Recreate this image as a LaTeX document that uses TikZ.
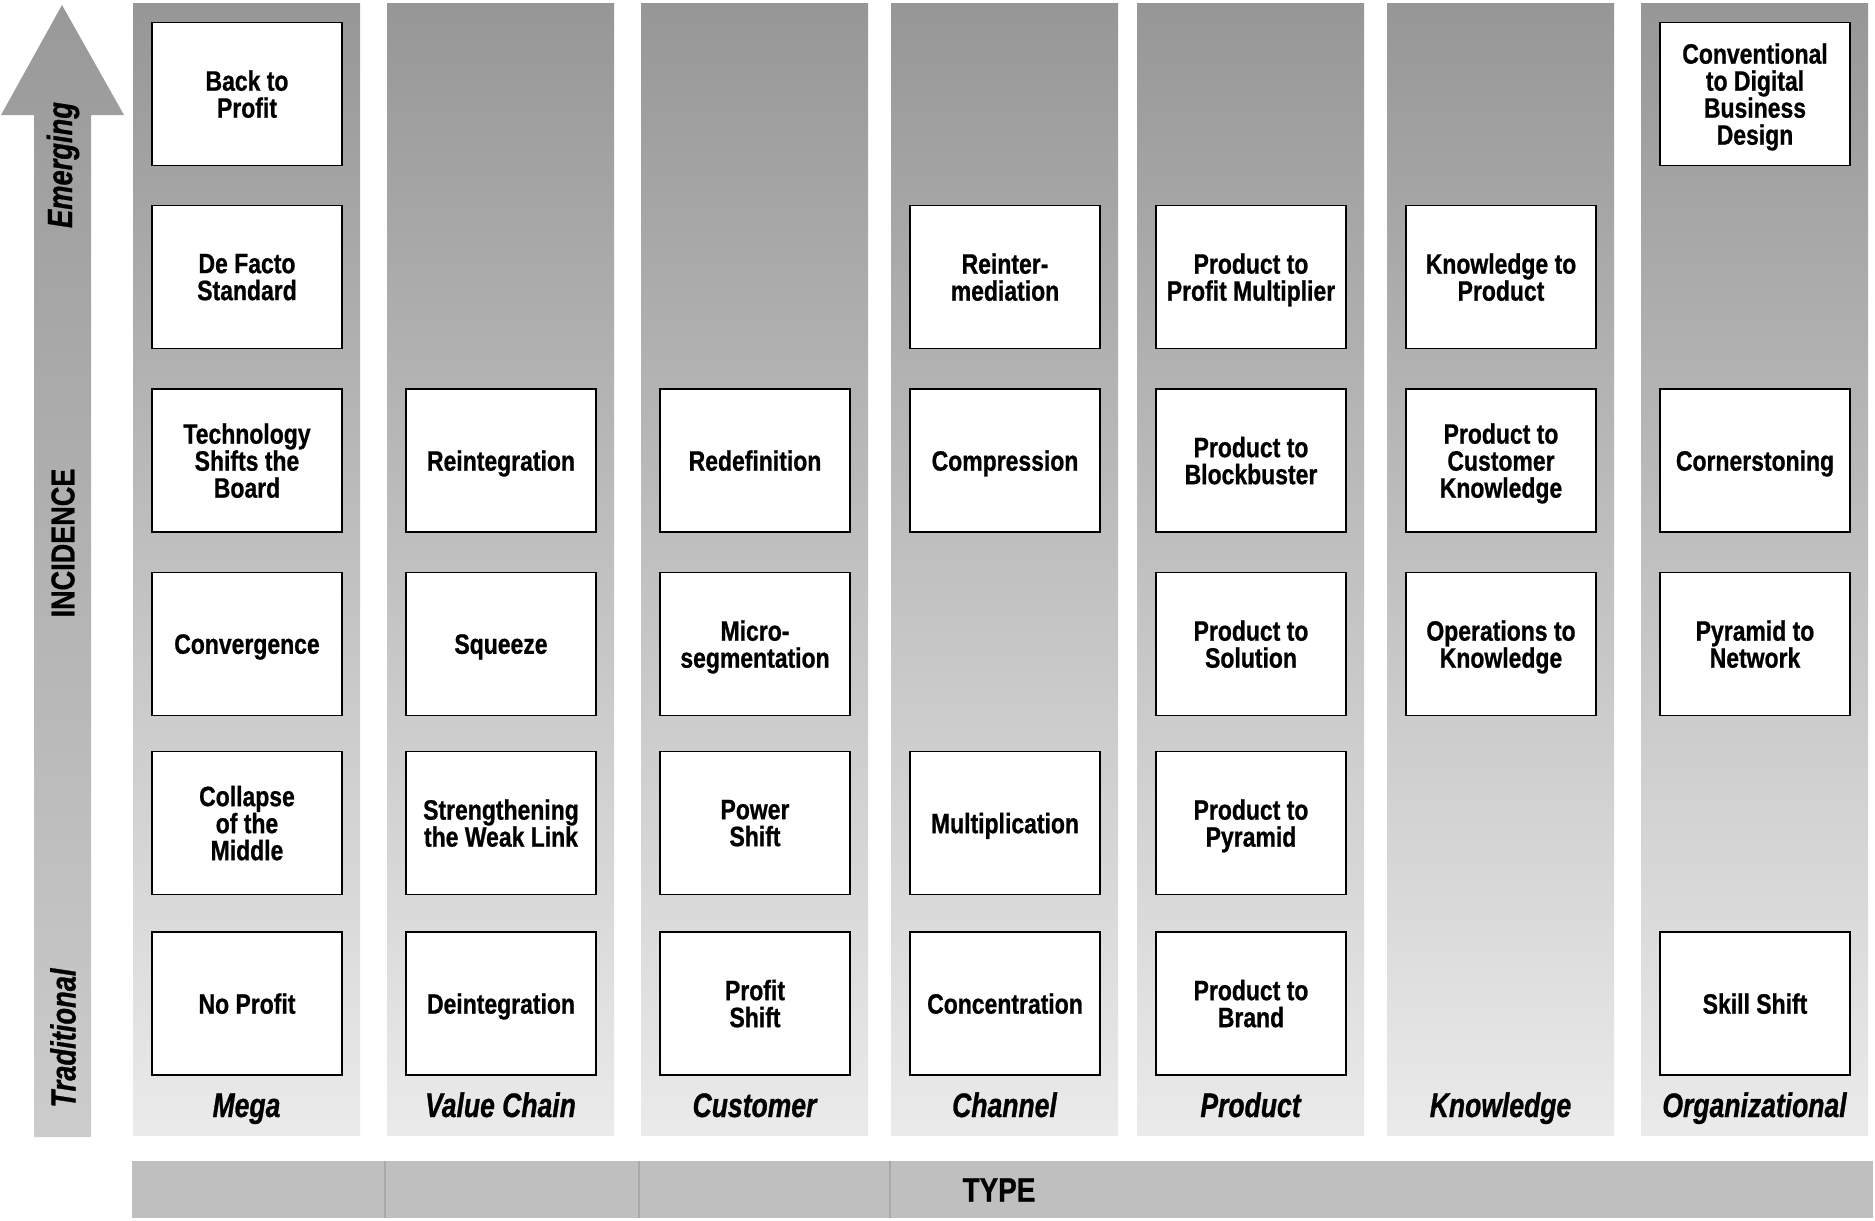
\documentclass[tikz,border=0pt]{standalone}
\usepackage{fontspec}
\usepackage{xcolor}
\usepackage{tikz}

\newfontfamily\condfont{Liberation Sans}[FakeStretch=0.82,BoldFeatures={FakeBold=0.8}]
\newfontfamily\labelfont{Liberation Sans}[FakeStretch=0.78,BoldItalicFeatures={FakeBold=0.8}]

\definecolor{coltop}{gray}{0.59}
\definecolor{colbot}{gray}{0.92}
\definecolor{arrtop}{gray}{0.60}
\definecolor{arrbot}{gray}{0.80}
\definecolor{typebar}{gray}{0.75}
\definecolor{typeline}{gray}{0.66}

\tikzset{
  cell/.style={draw=black,line width=0.9pt,fill=white,minimum width=95pt,
    minimum height=71.5pt,inner sep=0pt,align=center,text depth=0pt,
    execute at begin node={\vphantom{A}},
    font=\condfont\bfseries\fontsize{14}{13.5}\selectfont},
  collabel/.style={anchor=base,font=\labelfont\bfseries\itshape\fontsize{17}{17}\selectfont},
  axislabel/.style={rotate=90,font=\labelfont\bfseries\itshape\fontsize{17.5}{17.5}\selectfont}
}

\begin{document}
\begin{tikzpicture}[x=0.5pt,y=-0.5pt]
  \useasboundingbox (0,0) rectangle (1875,1221);
  % --- incidence arrow
  \shade[top color=arrtop,bottom color=arrbot]
    (34,1137) -- (34,115) -- (1,115) -- (62,5) -- (124,115) -- (91,115) -- (91,1137) -- cycle;
  \node[axislabel] (emerging) at (63,165) {Emerging};
  \node[rotate=90,font=\condfont\bfseries\fontsize{16.5}{16.5}\selectfont] (incidence) at (63,543) {INCIDENCE};
  \node[axislabel] (traditional) at (63,1038) {Traditional};
  % --- type columns
  \foreach \cx/\cname/\ctext in {133/mega/Mega,387/chain/Value Chain,641/customer/Customer,
      891/channel/Channel,1137/product/Product,1387/knowledge/Knowledge,1641/org/Organizational}{
    \shade[top color=coltop,bottom color=colbot] (\cx,3) rectangle ++(227,1132);
    \node[collabel] (lbl\cname) at (\cx+113.5,1117) {\ctext};
  }
  % --- type bar
  \fill[typebar] (132,1161) rectangle (1873,1218);
  \foreach \dx in {385,639,890}{
    \draw[typeline,line width=0.6pt] (\dx,1161) -- (\dx,1218);}
  \node[font=\condfont\bfseries\fontsize{17}{17}\selectfont] (type) at (999,1190) {TYPE};
  % --- Mega
  \begin{scope}[shift={(133,0)}]
    \node[cell] (mega1) at (114,94) {Back to\\Profit};
    \node[cell] (mega2) at (114,277) {De Facto\\Standard};
    \node[cell] (mega3) at (114,460.5) {Technology\\Shifts the\\Board};
    \node[cell] (mega4) at (114,644) {Convergence};
    \node[cell] (mega5) at (114,823) {Collapse\\of the\\Middle};
    \node[cell] (mega6) at (114,1003.5) {No Profit};
  \end{scope}
  % --- Value Chain
  \begin{scope}[shift={(387,0)}]
    \node[cell] (chain3) at (114,460.5) {Reintegration};
    \node[cell] (chain4) at (114,644) {Squeeze};
    \node[cell] (chain5) at (114,823) {Strengthening\\the Weak Link};
    \node[cell] (chain6) at (114,1003.5) {Deintegration};
  \end{scope}
  % --- Customer
  \begin{scope}[shift={(641,0)}]
    \node[cell] (customer3) at (114,460.5) {Redefinition};
    \node[cell] (customer4) at (114,644) {Micro-\\segmentation};
    \node[cell] (customer5) at (114,823) {Power\\Shift};
    \node[cell] (customer6) at (114,1003.5) {Profit\\Shift};
  \end{scope}
  % --- Channel
  \begin{scope}[shift={(891,0)}]
    \node[cell] (channel2) at (114,277) {Reinter-\\mediation};
    \node[cell] (channel3) at (114,460.5) {Compression};
    \node[cell] (channel5) at (114,823) {Multiplication};
    \node[cell] (channel6) at (114,1003.5) {Concentration};
  \end{scope}
  % --- Product
  \begin{scope}[shift={(1137,0)}]
    \node[cell] (product2) at (114,277) {Product to\\Profit Multiplier};
    \node[cell] (product3) at (114,460.5) {Product to\\Blockbuster};
    \node[cell] (product4) at (114,644) {Product to\\Solution};
    \node[cell] (product5) at (114,823) {Product to\\Pyramid};
    \node[cell] (product6) at (114,1003.5) {Product to\\Brand};
  \end{scope}
  % --- Knowledge
  \begin{scope}[shift={(1387,0)}]
    \node[cell] (knowledge2) at (114,277) {Knowledge to\\Product};
    \node[cell] (knowledge3) at (114,460.5) {Product to\\Customer\\Knowledge};
    \node[cell] (knowledge4) at (114,644) {Operations to\\Knowledge};
  \end{scope}
  % --- Organizational
  \begin{scope}[shift={(1641,0)}]
    \node[cell] (org1) at (114,94) {Conventional\\to Digital\\Business\\Design};
    \node[cell] (org3) at (114,460.5) {Cornerstoning};
    \node[cell] (org4) at (114,644) {Pyramid to\\Network};
    \node[cell] (org6) at (114,1003.5) {Skill Shift};
  \end{scope}
\end{tikzpicture}
\end{document}
